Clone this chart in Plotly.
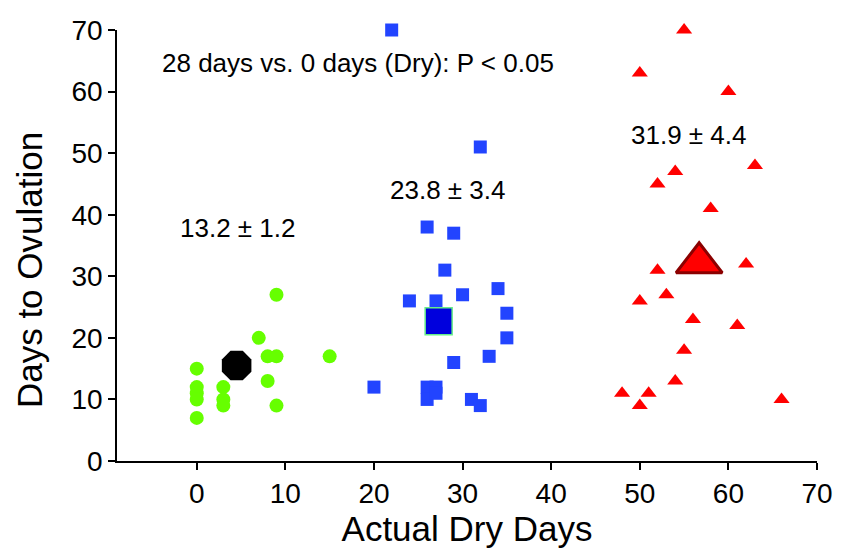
import plotly.graph_objects as go

# Green circles: 0-day (dry) group
dry0_x = [0, 0, 0, 0, 0, 3, 3, 3, 7, 8, 9, 8, 9, 9, 15]
dry0_y = [15, 12, 11, 10, 7, 12, 10, 9, 20, 17, 17, 13, 9, 27, 17]
dry0_mean = (4.5, 15.5)

# Blue squares: 28-day group
dry28_x = [22, 32, 26, 29, 28, 34, 30, 24, 27, 35, 35, 29, 33, 20, 26, 27, 26, 27, 31, 32]
dry28_y = [70, 51, 38, 37, 31, 28, 27, 26, 26, 24, 20, 16, 17, 12, 12, 12, 10, 11, 10, 9]
dry28_mean = (27.3, 22.7)

# Red triangles: 56-day group
dry56_x = [55, 50, 60, 63, 54, 52, 58, 62, 52, 53, 50, 56, 61, 55, 54, 48, 51, 50, 66]
dry56_y = [70, 63, 60, 48, 47, 45, 41, 32, 31, 27, 26, 23, 22, 18, 13, 11, 11, 9, 10]
dry56_mean = (56.7, 32.2)

x_ticks = [0, 10, 20, 30, 40, 50, 60, 70]
y_ticks = [0, 10, 20, 30, 40, 50, 60, 70]

labels = [
    ("28 days vs. 0 days (Dry): P < 0.05", 18.2, 64.6),
    ("13.2 ± 1.2", 4.6, 37.8),
    ("23.8 ± 3.4", 28.3, 44.0),
    ("31.9 ± 4.4", 55.5, 53.0),
]

x_title = "Actual Dry Days"
y_title = "Days to Ovulation"

FONT = "Liberation Sans, Arial, Helvetica, sans-serif"

fig = go.Figure()
fig.add_trace(go.Scatter(x=dry0_x, y=dry0_y, mode="markers",
                         marker=dict(symbol="circle", size=14, color="#66ff00", line=dict(width=0)),
                         cliponaxis=False, showlegend=False))
fig.add_trace(go.Scatter(x=[dry0_mean[0]], y=[dry0_mean[1]], mode="markers",
                         marker=dict(symbol="octagon", size=32, color="#000000", line=dict(width=0)),
                         cliponaxis=False, showlegend=False))
fig.add_trace(go.Scatter(x=dry28_x, y=dry28_y, mode="markers",
                         marker=dict(symbol="square", size=13, color="#2244ff", line=dict(width=0)),
                         cliponaxis=False, showlegend=False))
fig.add_trace(go.Scatter(x=[dry28_mean[0]], y=[dry28_mean[1]], mode="markers",
                         marker=dict(symbol="square", size=27, color="#0000dd",
                                     line=dict(width=1.5, color="#66ee88")),
                         cliponaxis=False, showlegend=False))
fig.add_trace(go.Scatter(x=dry56_x, y=dry56_y, mode="markers",
                         marker=dict(symbol="triangle-up", size=14, color="#ff0000", line=dict(width=0)),
                         cliponaxis=False, showlegend=False))
fig.add_trace(go.Scatter(x=[dry56_mean[0]], y=[dry56_mean[1]], mode="markers",
                         marker=dict(symbol="triangle-up", size=40, color="#ff0000",
                                     line=dict(width=3, color="#8b0000")),
                         cliponaxis=False, showlegend=False))

for text, x, y in labels:
    fig.add_annotation(x=x, y=y, text=text, showarrow=False,
                       font=dict(family=FONT, size=26, color="#000000"))

# y-axis title placed as rotated annotation (reference sits slightly below centre)
fig.add_annotation(x=-0.1257, y=0.443, xref="paper", yref="paper", text=y_title,
                   textangle=-90, showarrow=False, xanchor="center", yanchor="middle",
                   font=dict(family=FONT, size=35, color="#000000"))

fig.update_layout(
    width=842, height=550,
    margin=dict(l=117, r=25, t=30, b=89),
    paper_bgcolor="white", plot_bgcolor="white",
    font=dict(family=FONT, color="#000000"),
)
fig.update_xaxes(range=[-9, 70], tickvals=x_ticks, ticktext=[str(v) for v in x_ticks],
                 automargin=False,
                 showgrid=False, zeroline=False, showline=True, linecolor="black", linewidth=1.5,
                 ticks="outside", ticklen=7, tickwidth=1.5, tickcolor="black",
                 tickfont=dict(size=28, family=FONT),
                 title=dict(text=x_title, font=dict(size=35, family=FONT), standoff=8))
fig.update_yaxes(range=[0, 70], tickvals=y_ticks, ticktext=[str(v) for v in y_ticks],
                 automargin=False,
                 showgrid=False, zeroline=False, showline=True, linecolor="black", linewidth=1.5,
                 ticks="outside", ticklen=7, tickwidth=1.5, tickcolor="black",
                 tickfont=dict(size=28, family=FONT))

fig.write_html("out.html", config={"displayModeBar": False},
               post_script="document.body.style.margin='0';document.body.style.padding='0';")
